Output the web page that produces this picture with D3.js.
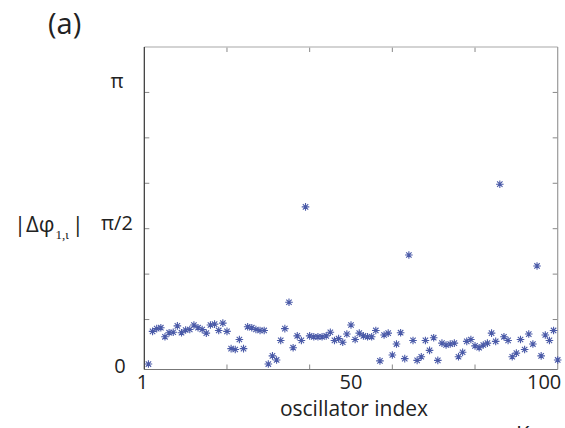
<!DOCTYPE html>
<html><head><meta charset="utf-8">
<script src="https://cdn.jsdelivr.net/npm/d3@7"></script>
<style>body{margin:0;background:#fff}svg{display:block}</style>
</head><body>
<svg id="c" width="565" height="428"></svg>
<script>
// oscillator index 1..100 and |Δφ| values
const indices = d3.range(1, 101);
const values = [
  0.01, 0.37, 0.40, 0.41, 0.31, 0.355, 0.36, 0.43, 0.355, 0.385,
  0.39, 0.44, 0.41, 0.39, 0.35, 0.44, 0.45, 0.38, 0.46, 0.37,
  0.18, 0.17, 0.28, 0.18, 0.42, 0.41, 0.39, 0.38, 0.38, 0.01,
  0.10, 0.055, 0.27, 0.40, 0.69, 0.19, 0.32, 0.27, 1.74, 0.32,
  0.31, 0.31, 0.31, 0.32, 0.36, 0.27, 0.29, 0.25, 0.34, 0.44,
  0.28, 0.35, 0.32, 0.31, 0.31, 0.38, 0.045, 0.33, 0.35, 0.11,
  0.23, 0.355, 0.07, 1.21, 0.27, 0.05, 0.09, 0.27, 0.16, 0.30,
  0.05, 0.24, 0.22, 0.23, 0.24, 0.09, 0.14, 0.26, 0.28, 0.21,
  0.19, 0.22, 0.24, 0.35, 0.26, 1.99, 0.31, 0.27, 0.09, 0.13,
  0.28, 0.17, 0.34, 0.23, 1.09, 0.10, 0.33, 0.27, 0.38, 0.055
];
const xTicks = [20, 40, 60, 80];
const yTicks = [0.5, 1, 1.5, 2, 2.5, 3];
const xTickLabels = [{v: 1, t: "1"}, {v: 50, t: "50"}, {v: 100, t: "100"}];
const yTickLabels = [{v: Math.PI, t: "π"}, {v: Math.PI / 2, t: "π/2"}, {v: 0, t: "0"}];

const svg = d3.select("#c");
const L = 144.3, R = 557.7, T = 47, B = 369.5;
const x = d3.scaleLinear().domain([0, 100]).range([L, R]);
const y = d3.scaleLinear().domain([-0.05, 3.5]).range([B, T]);
const font = "'Open Sans', 'DejaVu Sans', sans-serif";

// ticks (inward, all four sides)
const tk = svg.append("g").attr("stroke", "#888").attr("stroke-width", 1);
xTicks.forEach(v => {
  tk.append("line").attr("x1", x(v)).attr("x2", x(v)).attr("y1", B).attr("y2", B - 5);
  tk.append("line").attr("x1", x(v)).attr("x2", x(v)).attr("y1", T).attr("y2", T + 5);
});
yTicks.forEach(v => {
  tk.append("line").attr("x1", L).attr("x2", L + 5).attr("y1", y(v)).attr("y2", y(v));
  tk.append("line").attr("x1", R).attr("x2", R - 5).attr("y1", y(v)).attr("y2", y(v));
});

// frame
svg.append("line").attr("x1", L).attr("x2", R).attr("y1", T).attr("y2", T).attr("stroke", "#c4c4c4").attr("stroke-width", 1.5);
svg.append("line").attr("x1", R).attr("x2", R).attr("y1", T).attr("y2", B).attr("stroke", "#999").attr("stroke-width", 1.2);
svg.append("line").attr("x1", L).attr("x2", R).attr("y1", B).attr("y2", B).attr("stroke", "#777").attr("stroke-width", 1.2);
svg.append("line").attr("x1", L).attr("x2", L).attr("y1", T).attr("y2", B).attr("stroke", "#333").attr("stroke-width", 1.2);

// asterisk markers
const s = 3.8, d = 2.7;
const star = `M${-s},0L${s},0M0,${-s}L0,${s}M${-d},${-d}L${d},${d}M${-d},${d}L${d},${-d}`;
svg.append("g").selectAll("path").data(indices).join("path")
  .attr("transform", (i, k) => `translate(${x(i)},${y(values[k])})`)
  .attr("d", star).attr("fill", "none").attr("stroke", "#4a5aa8").attr("stroke-width", 1.1);

// tick labels
svg.append("g").selectAll("text").data(yTickLabels).join("text")
  .attr("x", d => d.v === 0 ? 120 : 117).attr("y", d => y(d.v) + 8).attr("text-anchor", "middle")
  .attr("font-family", font).attr("font-size", 20).attr("fill", "#222").text(d => d.t);
svg.append("g").selectAll("text").data(xTickLabels).join("text")
  .attr("x", d => d.v === 1 ? x(d.v) - 6 : (d.v === 100 ? 527 : x(d.v)))
  .attr("y", 389).attr("text-anchor", d => d.v === 100 ? "start" : "middle")
  .attr("font-family", font).attr("font-size", 20).attr("fill", "#222").text(d => d.t);

// axis titles
svg.append("text").attr("x", 354).attr("y", 416).attr("text-anchor", "middle")
  .attr("font-family", font).attr("font-size", 21).attr("fill", "#222").text("oscillator index");
const yl = svg.append("text").attr("x", 14).attr("y", 232)
  .attr("font-family", font).attr("font-size", 22).attr("fill", "#222");
yl.append("tspan").text("|Δφ");
yl.append("tspan").attr("font-family", "'Liberation Serif', serif").attr("font-size", 13).attr("dy", 7).attr("dx", 1).text("1,ι");
yl.append("tspan").attr("dy", -7).attr("dx", 3).text("|");

// panel label
svg.append("text").attr("x", 48).attr("y", 34).attr("font-family", font).attr("font-size", 29).attr("fill", "#222").text("(a)");
// clipped fragment of next panel label
svg.append("text").attr("x", 516).attr("y", 442).attr("font-family", font).attr("font-size", 22).attr("fill", "#222").text("K");
</script>
</body></html>
